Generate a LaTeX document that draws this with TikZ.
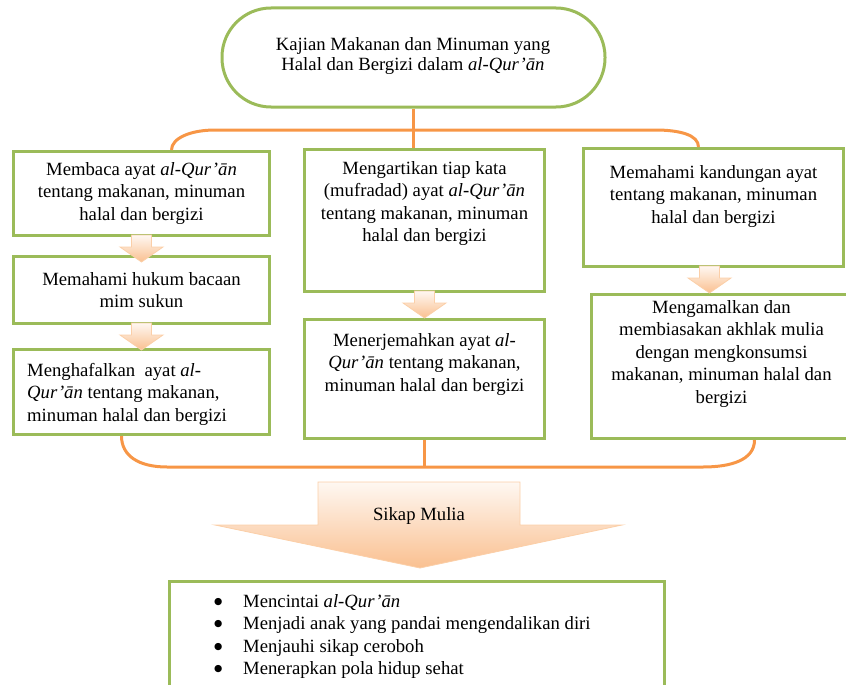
\documentclass[tikz,border=0pt]{standalone}
\usepackage{fontspec}
\setmainfont{Liberation Serif}
\newfontfamily\dotfont{DejaVu Sans}
\usetikzlibrary{positioning}

\definecolor{boxgreen}{HTML}{9BBB59}
\definecolor{linkorange}{HTML}{F79646}
\definecolor{arrowpeach}{HTML}{FAC090}
\definecolor{arrowedge}{HTML}{FBCFA8}

\newcommand{\listdot}{\makebox[29pt][l]{\raisebox{3pt}{\dotfont\fontsize{9.5}{10}\selectfont ●}}}

\tikzset{
  box/.style={draw=boxgreen, line width=3pt, fill=white, inner sep=0pt, anchor=north west},
  boxtext/.style={align=center, inner sep=0pt, font=\fontsize{18.7}{22.5}\selectfont},
  link/.style={draw=linkorange, line width=3pt},
  arrowbody/.style={draw=arrowedge, line width=0.8pt, top color=arrowpeach!12, bottom color=arrowpeach},
  pics/downblock/.style={code={
    \path[arrowbody] (-10,-2) -- (10,-2) -- (10,10) -- (21.5,10) -- (0,25) -- (-21.5,10) -- (-10,10) -- cycle;
  }}
}

\begin{document}
\begin{tikzpicture}[x=1pt, y=-1pt]

	\useasboundingbox (0,0) rectangle (846,685);
	\clip (0,0) rectangle (846,685);

	% Column positions
	\def\leftx{12}
	\def\midx{303}
	\def\rightx{582}

	% Title
	\node[draw=boxgreen, line width=3pt, rounded corners=49pt, minimum width=383pt, minimum height=99pt] (title) at (413.5,57.5) {};
	\node[boxtext, font=\fontsize{18.7}{20}\selectfont] (titletext) at (413,56) {Kajian Makanan dan Minuman yang\\ Halal dan Bergizi dalam \textit{al-Qur’ān}};

	% Left column
	\node[box, minimum width=256pt, minimum height=84pt] (l1) at (\leftx,150) {};
	\node[boxtext] (l1text) at (l1.center) {Membaca ayat \textit{al-Qur’ān}\\ tentang makanan, minuman\\ halal dan bergizi};

	\node[box, minimum width=256pt, minimum height=67pt] (l2) at (\leftx,255) {};
	\node[boxtext] (l2text) at (l2.center) {Memahami hukum bacaan\\ mim sukun};

	\node[box, minimum width=256pt, minimum height=85pt] (l3) at (\leftx,348) {};
	\node[boxtext, align=left, anchor=north west] (l3text) at ([xshift=15pt,yshift=-15pt]l3.north west) {Menghafalkan\ \ ayat \textit{al-}\\ \textit{Qur’ān} tentang makanan,\\ minuman halal dan bergizi};

	% Middle column
	\node[box, minimum width=240pt, minimum height=142pt] (m1) at (\midx,148) {};
	\node[boxtext, below=13pt of m1.north] (m1text) {Mengartikan tiap kata\\ (mufradad) ayat \textit{al-Qur’ān}\\ tentang makanan, minuman\\ halal dan bergizi};

	\node[box, minimum width=240pt, minimum height=119pt] (m2) at (\midx,318) {};
	\node[boxtext, below=15pt of m2.north] (m2text) {Menerjemahkan ayat \textit{al-}\\ \textit{Qur’ān} tentang makanan,\\ minuman halal dan bergizi};

	% Right column
	\node[box, minimum width=260pt, minimum height=118pt] (r1) at (\rightx,147) {};
	\node[boxtext, below=18pt of r1.north] (r1text) {Memahami kandungan ayat\\ tentang makanan, minuman\\ halal dan bergizi};

	\node[box, minimum width=260pt, minimum height=144pt] (r2) at (590,293) {};
	\node[boxtext, below=7pt of r2.north] (r2text) {Mengamalkan dan\\ membiasakan akhlak mulia\\ dengan mengkonsumsi\\ makanan, minuman halal dan\\ bergizi};

	% Small arrows
	\pic at (l1.south) {downblock};
	\pic at (l2.south) {downblock};
	\pic at (m1.south) {downblock};
	\pic at ([xshift=-4pt]r1.south) {downblock};

	% Top bracket
	\draw[link] (title.south) -- (title.south |- m1.north);
	\draw[link] ([xshift=30pt]l1.north) .. controls +(0,-12) and +(-24,0) .. (215,130) -- (655,130) .. controls +(25,0) and +(0,-12) .. ([xshift=-15pt]r1.north);

	% Bottom bracket
	\coordinate (joinbottom) at (413,467);
	\draw[link] (m2.south) -- (m2.south |- joinbottom);
	\draw[link] ([xshift=-20pt]l3.south) .. controls +(0,20) and +(-28,0) .. (167,467) -- (703,467) .. controls +(28,0) and +(0,20) .. ([xshift=33pt]r2.south);

	% Big arrow
	\path[arrowbody] (318,482) -- (520,482) -- (520,525) -- (622,525) -- (420,568) -- (215,525) -- (318,525) -- cycle;
	\node[boxtext] (sikap) at (419,516) {Sikap Mulia};

	% Result box
	\node[box, minimum width=495pt, minimum height=120pt] (result) at (168,580) {};
	\node[boxtext, align=left, anchor=north west] (resulttext) at ([xshift=46pt,yshift=-14pt]result.north west) {%
		\listdot Mencintai \textit{al-Qur’ān}\\
		\listdot Menjadi anak yang pandai mengendalikan diri\\
		\listdot Menjauhi sikap ceroboh\\
		\listdot Menerapkan pola hidup sehat};

\end{tikzpicture}
\end{document}
